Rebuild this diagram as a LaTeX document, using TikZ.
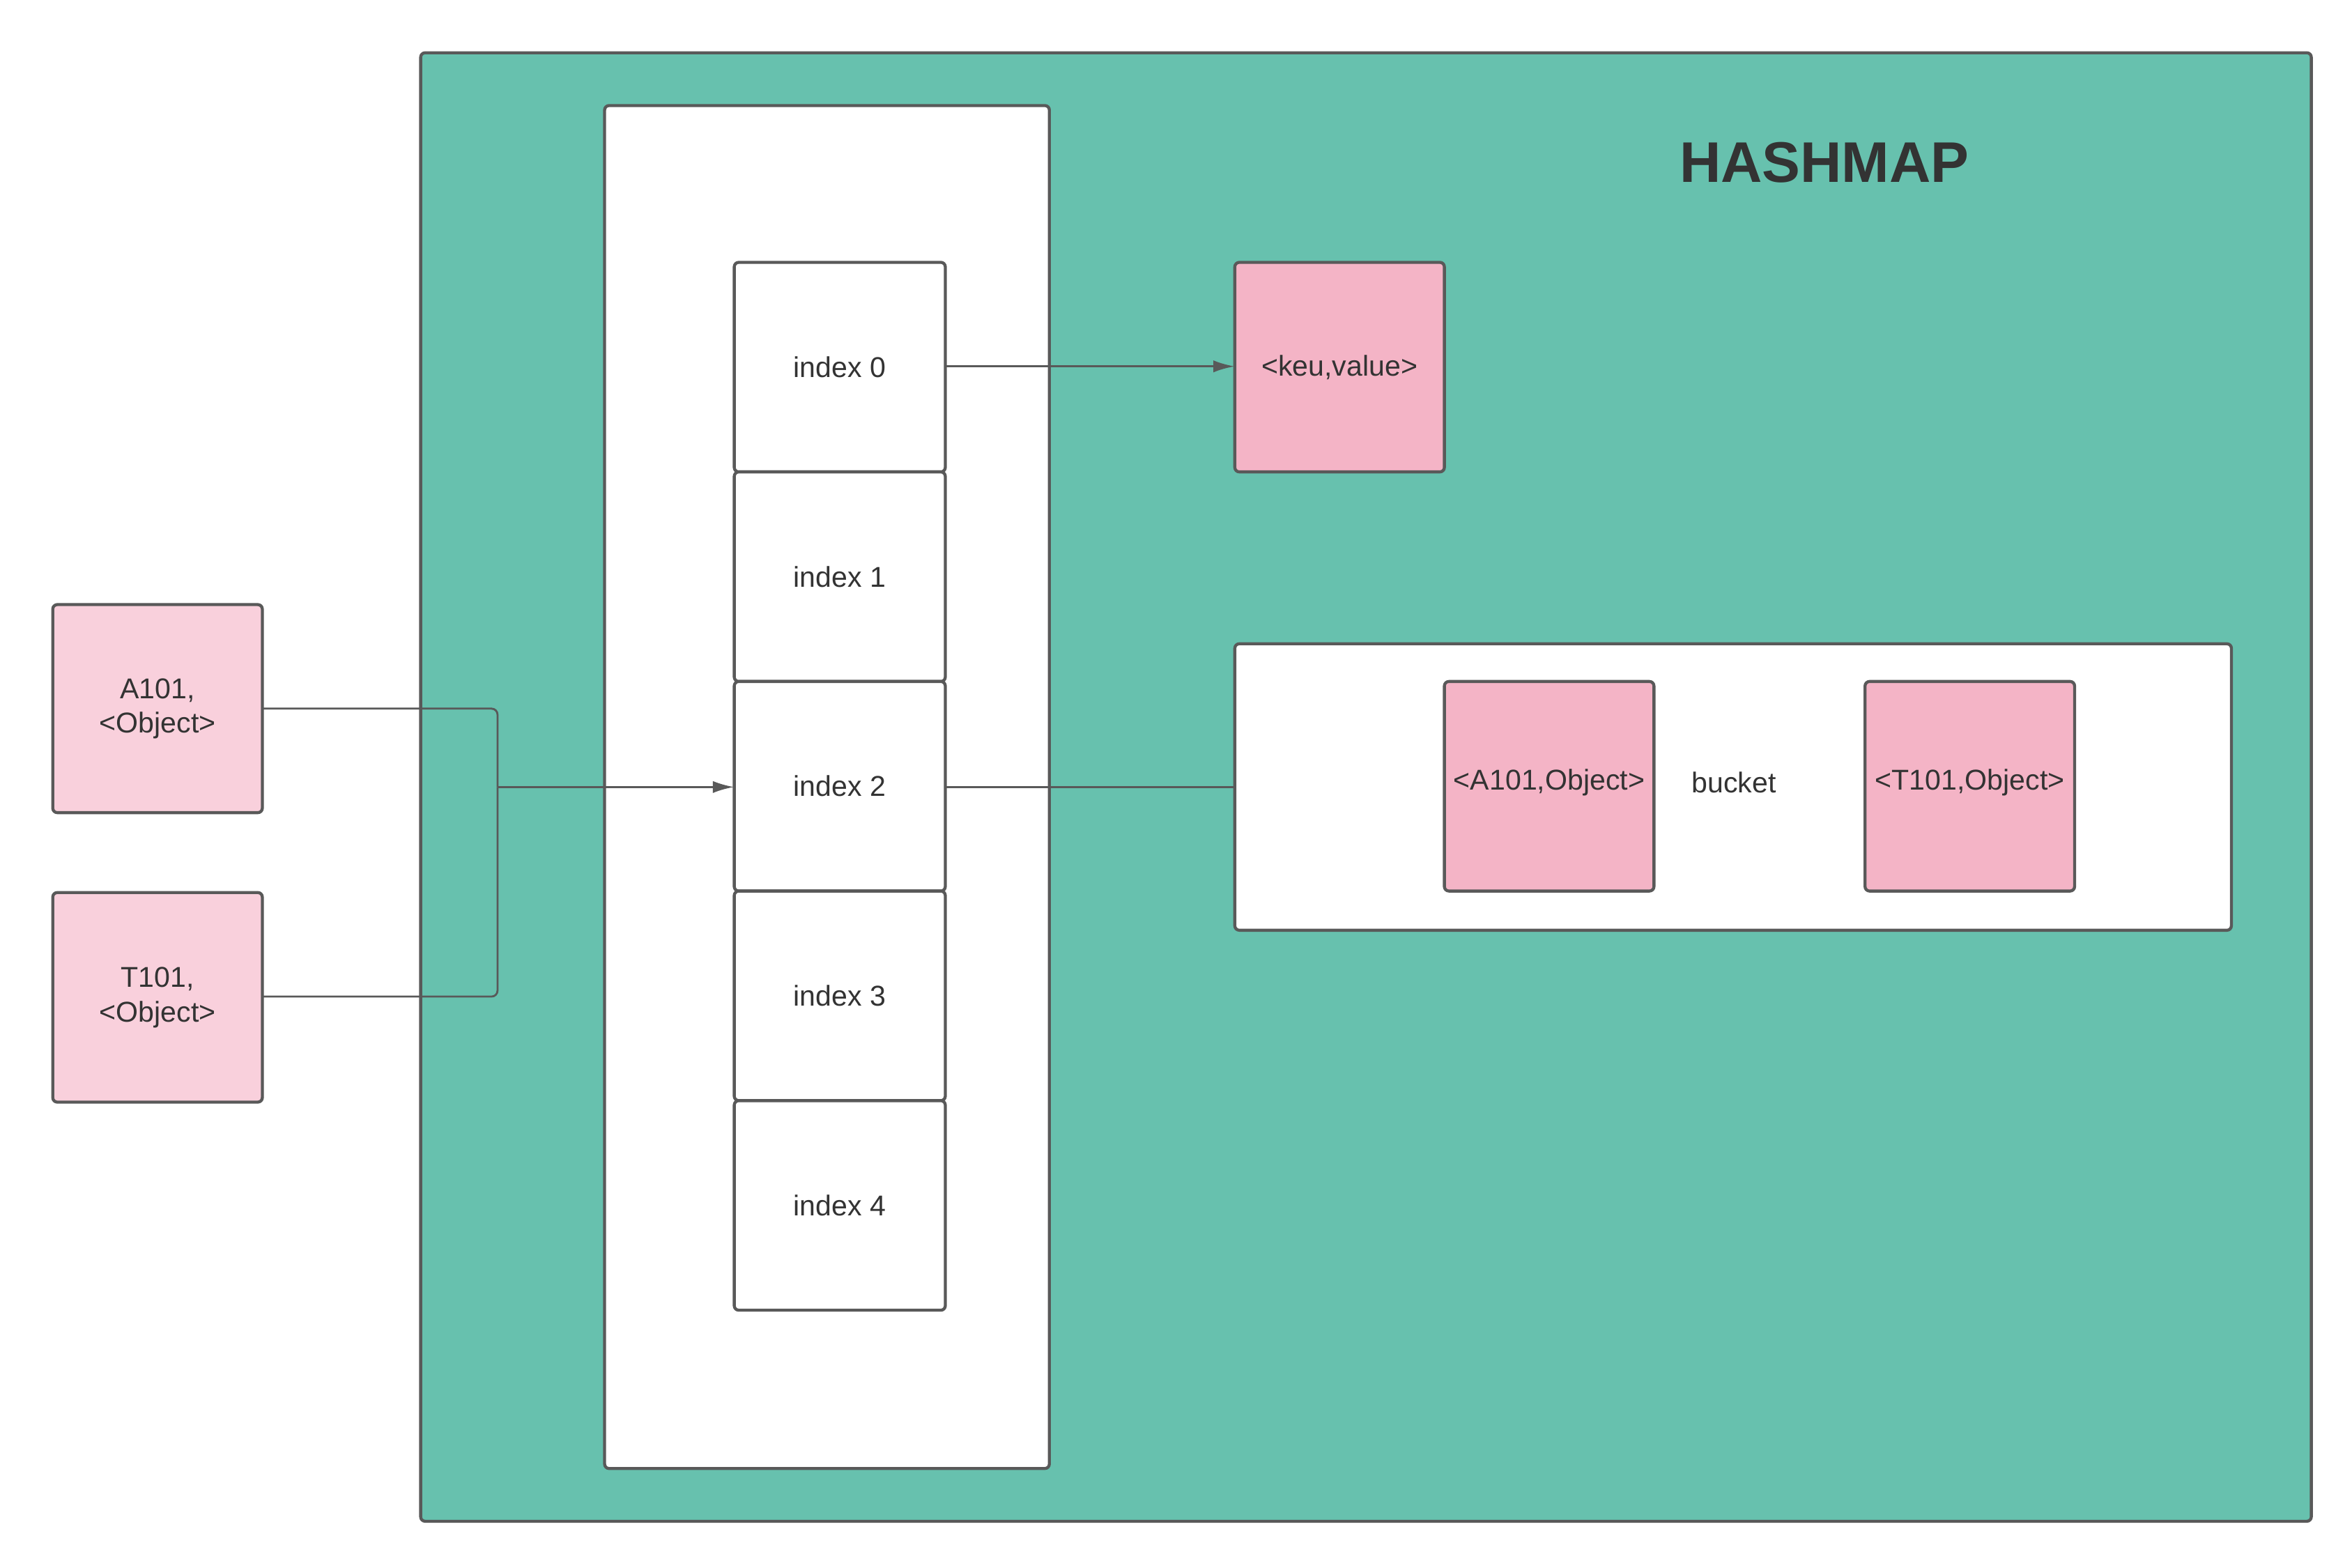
\documentclass[tikz,border=0pt]{standalone}
\usepackage{fontspec}
\setmainfont{Liberation Sans}
\usetikzlibrary{arrows.meta}
\definecolor{teal}{HTML}{67C1AE}
\definecolor{pinkd}{HTML}{F4B4C6}
\definecolor{pinkl}{HTML}{F9D0DC}
\definecolor{edge}{HTML}{595959}
\definecolor{txt}{HTML}{333333}
\begin{document}
\begin{tikzpicture}[x=1pt,y=-1pt,
  box/.style={draw=edge,line width=2pt,rounded corners=3pt},
  lbl/.style={font=\fontsize{19}{23}\selectfont,text=txt,align=center},
  conn/.style={draw=edge,line width=1.3pt},
  arr/.style={conn,-{Latex[length=14pt,width=8pt]}}]
\useasboundingbox[fill=white] (0,0) rectangle (1560,1040);
\draw[box,fill=teal] (279,35) rectangle (1533,1009);
\draw[box,fill=white] (401,70) rectangle (696,974);
\node[lbl,font=\fontsize{38}{44}\selectfont\bfseries] (title) at (1210,108) {HASHMAP};
\foreach \i/\y in {0/174,1/313,2/452,3/591,4/730}{
  \draw[box,fill=white] (487,\y) rectangle (627,\y+139);
  \node[lbl,minimum width=140pt,minimum height=139pt] (i\i) at (557,\y+69.5) {index \i};
}
\draw[box,fill=pinkd] (819,174) rectangle (958,313);
\node[lbl,minimum width=139pt,minimum height=139pt] (kv) at (888.5,243.5) {<keu,value>};
\draw[box,fill=white] (819,427) rectangle (1480,617);
\node[minimum width=661pt,minimum height=190pt] (bucket) at (1149.5,522) {};
\node[lbl] (bl) at (1150,519) {bucket};
\draw[box,fill=pinkd] (958,452) rectangle (1097,591);
\node[lbl] (ao) at (1027.5,519) {<A101,Object>};
\draw[box,fill=pinkd] (1237,452) rectangle (1376,591);
\node[lbl] (to) at (1306.5,519) {<T101,Object>};
\draw[box,fill=pinkl] (35,401) rectangle (174,539);
\node[lbl,minimum width=139pt,minimum height=138pt] (a) at (104.5,470) {A101,\\<Object>};
\draw[box,fill=pinkl] (35,592) rectangle (174,731);
\node[lbl,minimum width=139pt,minimum height=139pt] (t) at (104.5,661.5) {T101,\\<Object>};
\coordinate (j) at (330,522);
\draw[conn,rounded corners=4pt] (a.east |- 0,470) -- (330,470) -- (j);
\draw[conn,rounded corners=4pt] (t.east |- 0,661) -- (330,661) -- (j);
\draw[arr] (j) -- (i2.west |- j);
\draw[arr] (i0.east |- 0,243) -- (kv.west |- 0,243);
\draw[conn] (i2.east |- 0,522) -- (bucket.west |- 0,522);
\end{tikzpicture}
\end{document}
